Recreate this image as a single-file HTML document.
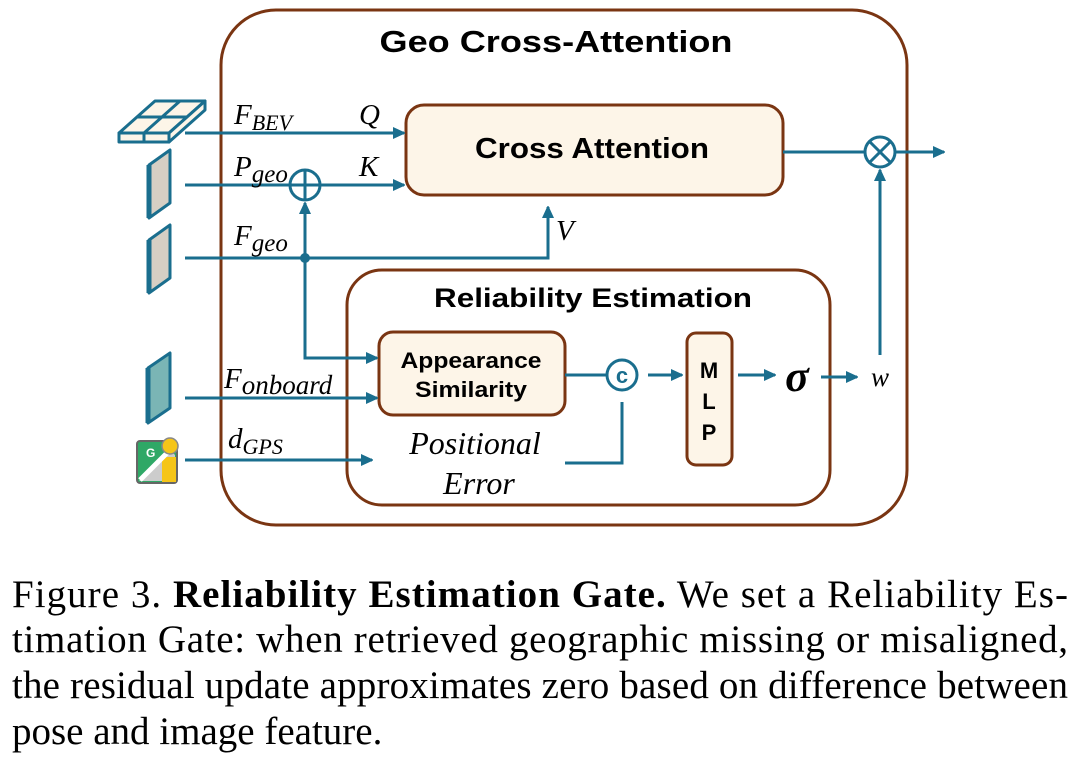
<!DOCTYPE html>
<html><head><meta charset="utf-8"><style>
html,body{margin:0;padding:0;background:#fff;}
svg{display:block;}
</style></head><body>
<svg width="1080" height="775" viewBox="0 0 1080 775" xmlns="http://www.w3.org/2000/svg">
<defs>
<marker id="ar" markerWidth="12" markerHeight="12" refX="11" refY="6" orient="auto" markerUnits="userSpaceOnUse">
<path d="M0,0 L13,6 L0,12 Z" fill="#1a6e8e"/>
</marker>
</defs>
<g fill="none" stroke="#7a3512" stroke-width="3">
<rect x="221" y="10" width="686" height="515" rx="55"/>
<rect x="347" y="270" width="483" height="235" rx="35"/>
<rect x="406" y="105" width="377" height="90" rx="18" fill="#fdf5e8"/>
<rect x="379" y="332" width="186" height="83" rx="14" fill="#fdf5e8"/>
<rect x="687" y="333" width="45" height="132" rx="9" fill="#fdf5e8"/>
</g>
<g font-family="Liberation Sans, sans-serif" font-weight="bold" fill="#000" text-anchor="middle">
<text x="556" y="52" font-size="31" textLength="353" lengthAdjust="spacingAndGlyphs">Geo Cross-Attention</text>
<text x="592" y="158" font-size="29" textLength="234" lengthAdjust="spacingAndGlyphs">Cross Attention</text>
<text x="593" y="307" font-size="27" textLength="318" lengthAdjust="spacingAndGlyphs">Reliability Estimation</text>
<text x="471" y="368" font-size="22" textLength="141" lengthAdjust="spacingAndGlyphs">Appearance</text>
<text x="471" y="397" font-size="22" textLength="112" lengthAdjust="spacingAndGlyphs">Similarity</text>
<text x="709" y="378" font-size="22">M</text>
<text x="709" y="409" font-size="22">L</text>
<text x="709" y="440" font-size="22">P</text>
</g>
<g stroke="#1a6e8e" stroke-width="3" fill="none">
<line x1="185" y1="133" x2="404" y2="133" marker-end="url(#ar)"/>
<line x1="185" y1="185" x2="290" y2="185"/>
<line x1="320" y1="185" x2="404" y2="185" marker-end="url(#ar)"/>
<circle cx="305" cy="185" r="15"/>
<line x1="290" y1="185" x2="320" y2="185"/>
<line x1="305" y1="170" x2="305" y2="200"/>
<polyline points="185,258 548,258 548,207" marker-end="url(#ar)"/>
<line x1="305" y1="258" x2="305" y2="203" marker-end="url(#ar)"/>
<polyline points="305,258 305,358 377,358" marker-end="url(#ar)"/>
<line x1="185" y1="398" x2="377" y2="398" marker-end="url(#ar)"/>
<line x1="185" y1="460" x2="372" y2="460" marker-end="url(#ar)"/>
<line x1="565" y1="375" x2="606" y2="375"/>
<circle cx="622" cy="375" r="15"/>
<polyline points="565,463 622,463 622,402"/>
<line x1="648" y1="375" x2="682" y2="375" marker-end="url(#ar)"/>
<line x1="738" y1="375" x2="775" y2="375" marker-end="url(#ar)"/>
<line x1="821" y1="377" x2="857" y2="377" marker-end="url(#ar)"/>
<line x1="880" y1="355" x2="880" y2="170" marker-end="url(#ar)"/>
<line x1="783" y1="152" x2="865" y2="152"/>
<circle cx="880" cy="152" r="15"/>
<line x1="869" y1="141" x2="891" y2="163"/>
<line x1="891" y1="141" x2="869" y2="163"/>
<line x1="895" y1="152" x2="944" y2="152" marker-end="url(#ar)"/>
</g>
<circle cx="305" cy="258" r="5" fill="#1a6e8e"/>
<text x="622" y="383" font-family="Liberation Sans, sans-serif" font-weight="bold" font-size="22" fill="#1a6e8e" text-anchor="middle">c</text>
<g font-family="Liberation Serif, serif" font-style="italic" fill="#000">
<text x="234" y="124" font-size="29">F<tspan font-size="22" dy="6">BEV</tspan></text>
<text x="359" y="124" font-size="29">Q</text>
<text x="234" y="176" font-size="29">P<tspan font-size="25" dy="6">geo</tspan></text>
<text x="359" y="176" font-size="29">K</text>
<text x="234" y="245" font-size="29">F<tspan font-size="25" dy="6">geo</tspan></text>
<text x="556" y="240" font-size="29">V</text>
<text x="224" y="388" font-size="29">F<tspan font-size="27" dy="6">onboard</tspan></text>
<text x="228" y="448" font-size="29">d<tspan font-size="22" dy="6">GPS</tspan></text>
<text x="475" y="454" font-size="32" text-anchor="middle">Positional</text>
<text x="479" y="494" font-size="32" text-anchor="middle">Error</text>
<text x="880" y="386" font-size="27" text-anchor="middle">w</text>
</g>
<text x="797" y="391" font-family="Liberation Serif, serif" font-style="italic" font-weight="bold" font-size="44" text-anchor="middle">σ</text>
<!-- icons -->
<g stroke="#1a6e8e" stroke-width="3" stroke-linejoin="round">
<polygon points="119,133 155,101 205,101 169,133" fill="#fdf5e8"/>
<polygon points="119,133 169,133 169,142 119,142" fill="#fdf5e8"/>
<polygon points="169,133 205,101 205,110 169,142" fill="#fdf5e8"/>
<line x1="137" y1="117" x2="187" y2="117"/>
<line x1="180" y1="101" x2="144" y2="133"/>
<line x1="144" y1="133" x2="144" y2="142"/>
<polygon points="149,165 170,150 170,203 149,218" fill="#d6cfc4"/>
<line x1="149" y1="165" x2="149" y2="218" stroke-width="5"/>
<polygon points="149,240 170,225 170,278 149,293" fill="#d6cfc4"/>
<line x1="149" y1="240" x2="149" y2="293" stroke-width="5"/>
<polygon points="148,368 170,353 170,408 148,423" fill="#7ab5b5"/>
<line x1="148" y1="368" x2="148" y2="423" stroke-width="5"/>
</g>
<g>
<rect x="137" y="441" width="40" height="42" rx="3" fill="#2fa866" stroke="#666" stroke-width="2"/>
<polygon points="139,481 170,450 175,455 175,481" fill="#ccc"/>
<rect x="162" y="457" width="14" height="25" fill="#f5c518"/>
<line x1="140" y1="480" x2="170" y2="450" stroke="#fff" stroke-width="5"/>
<circle cx="170" cy="446" r="8" fill="#f5c518" stroke="#888" stroke-width="1.5"/>
<text x="146" y="457" font-family="Liberation Sans, sans-serif" font-weight="bold" font-size="12" fill="#fff">G</text>
</g>
<!-- caption -->
<g font-family="Liberation Serif, serif" font-size="39" fill="#000">
<text x="12" y="607" textLength="1056" lengthAdjust="spacing">Figure 3.  <tspan font-weight="bold">Reliability Estimation Gate.</tspan>  We set a Reliability Es-</text>
<text x="12" y="652" textLength="1056" lengthAdjust="spacing">timation Gate:  when retrieved geographic missing or misaligned,</text>
<text x="12" y="698" textLength="1056" lengthAdjust="spacing">the residual update approximates zero based on difference between</text>
<text x="12" y="744">pose and image feature.</text>
</g>
</svg>
</body></html>
